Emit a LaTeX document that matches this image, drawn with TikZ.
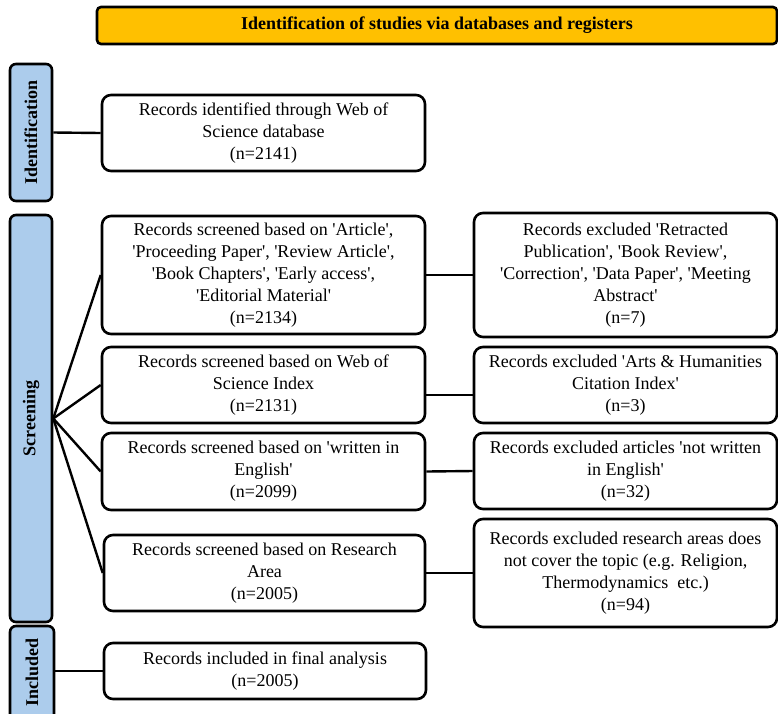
\documentclass[tikz,border=0pt]{standalone}
\usepackage{fontspec}
\setmainfont{Liberation Serif}
\newfontfamily\tnr{Liberation Serif}
\definecolor{hdrfill}{RGB}{255,192,0}
\definecolor{sidefill}{RGB}{172,204,236}
\tikzset{
  base/.style={draw=black, line width=2.6pt, rounded corners=9pt, inner sep=2pt,
    font={\tnr\fontsize{18}{22}\selectfont}, align=center},
  recbox/.style={base, fill=white},
  hdrbox/.style={base, fill=hdrfill, rounded corners=4pt, font={\tnr\bfseries\fontsize{18}{22}\selectfont}},
  sidebox/.style={base, fill=sidefill, rounded corners=6pt},
  sidelabel/.style={rotate=90, font={\tnr\bfseries\fontsize{18}{22}\selectfont}},
  link/.style={line width=2.4pt, draw=black}
}
\begin{document}
\begin{tikzpicture}[x=1pt, y=-1pt]
\useasboundingbox (0,0) rectangle (778,713);
% header
\node[hdrbox, minimum width=680pt, minimum height=37pt] (hdr) at (437,25.5) {Identification of studies via databases and registers};
% side boxes
\node[sidebox, minimum width=42pt, minimum height=137pt] (sideI) at (31,132.5) {};
\node[sidelabel] (sideIt) at (31,132.5) {Identification};
\node[sidebox, minimum width=42pt, minimum height=407pt] (sideS) at (31,418.5) {};
\node[sidelabel] (sideSt) at (31,418.5) {Screening};
\node[sidebox, minimum width=44pt, minimum height=94pt] (sideN) at (32,673) {};
\node[sidelabel] (sideNt) at (32,672) {Included};
% record boxes
\node[recbox, minimum width=323pt, minimum height=76pt] (idb) at (263.5,133) {Records identified through Web of\\Science database\\(n=2141)};
\node[recbox, minimum width=323pt, minimum height=118pt] (s1) at (263.5,275) {Records screened based on 'Article',\\'Proceeding Paper', 'Review Article',\\'Book Chapters', 'Early access',\\'Editorial Material'\\(n=2134)};
\node[recbox, minimum width=303pt, minimum height=124pt] (e1) at (625.5,275) {Records excluded 'Retracted\\Publication', 'Book Review',\\'Correction', 'Data Paper', 'Meeting\\Abstract'\\(n=7)};
\node[recbox, minimum width=323pt, minimum height=76pt] (s2) at (263.5,385) {Records screened based on Web of\\Science Index\\(n=2131)};
\node[recbox, minimum width=303pt, minimum height=76pt] (e2) at (625.5,385) {Records excluded 'Arts \& Humanities\\Citation Index'\\(n=3)};
\node[recbox, minimum width=323pt, minimum height=77pt] (s3) at (263.5,471.5) {Records screened based on 'written in\\English'\\(n=2099)};
\node[recbox, minimum width=303pt, minimum height=76pt] (e3) at (625.5,471) {Records excluded articles 'not written\\in English'\\(n=32)};
\node[recbox, minimum width=321pt, minimum height=76pt] (s4) at (264.5,573) {Records screened based on Research\\Area\\(n=2005)};
\node[recbox, minimum width=303pt, minimum height=108pt] (e4) at (625.5,573) {Records excluded research areas does\\not cover the topic (e.g. Religion,\\Thermodynamics~ etc.)\\(n=94)};
\node[recbox, minimum width=322pt, minimum height=56pt] (inc) at (265,671) {Records included in final analysis\\(n=2005)};
% connectors
\draw[link] (sideI.east) -- (idb.west);
\draw[link] (sideS.east) -- (s1.west);
\draw[link] (sideS.east) -- (s2.west);
\draw[link] (sideS.east) -- (s3.west);
\draw[link] (sideS.east) -- (s4.west);
\draw[link] (s1.east) -- (e1.west);
\draw[link] ([yshift=-10pt]s2.east) -- ([yshift=-10pt]e2.west);
\draw[link] (s3.east) -- (e3.west);
\draw[link] (s4.east) -- (e4.west);
\draw[link] (sideN.east |- inc.west) -- (inc.west);
\end{tikzpicture}
\end{document}
